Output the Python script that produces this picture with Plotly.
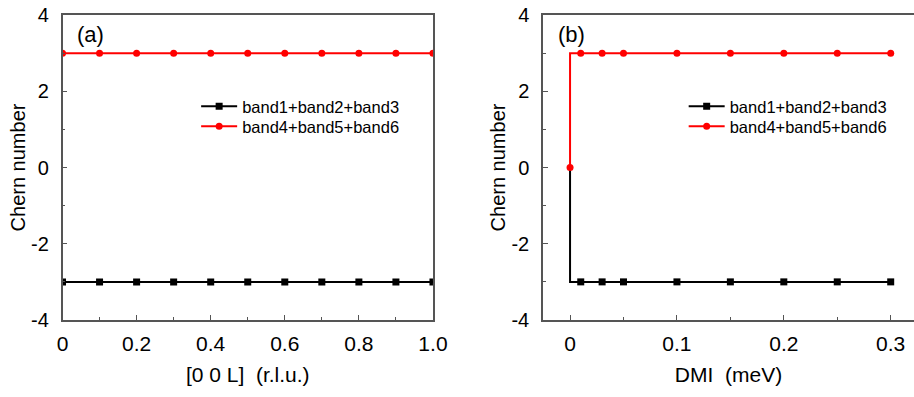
import plotly.graph_objects as go

# ---- data ----
L_vals = [0.0, 0.1, 0.2, 0.3, 0.4, 0.5, 0.6, 0.7, 0.8, 0.9, 1.0]
a_band123 = [-3, -3, -3, -3, -3, -3, -3, -3, -3, -3, -3]
a_band456 = [3, 3, 3, 3, 3, 3, 3, 3, 3, 3, 3]

dmi_vals = [0.0, 0.01, 0.03, 0.05, 0.1, 0.15, 0.2, 0.25, 0.3]
b_band123 = [0, -3, -3, -3, -3, -3, -3, -3, -3]
b_band456 = [0, 3, 3, 3, 3, 3, 3, 3, 3]

name1 = "band1+band2+band3"
name2 = "band4+band5+band6"

a_xticks = [0, 0.2, 0.4, 0.6, 0.8, 1.0]
a_xticktext = ["0", "0.2", "0.4", "0.6", "0.8", "1.0"]
b_xticks = [0, 0.1, 0.2, 0.3]
b_xticktext = ["0", "0.1", "0.2", "0.3"]
yticks = [-4, -2, 0, 2, 4]
yticktext = ["-4", "-2", "0", "2", "4"]

FONT = "Liberation Sans, Arial, sans-serif"
AX = "#555555"

fig = go.Figure()

def add(x, y, name, color, symbol, xa, ya, legend, shape="linear", mcolor=None):
    fig.add_trace(go.Scatter(
        x=x, y=y, name=name, mode="lines+markers", xaxis=xa, yaxis=ya,
        legend=legend, showlegend=True,
        line=dict(color=color, width=2, shape=shape),
        marker=dict(color=mcolor if mcolor is not None else color,
                    size=7, symbol=symbol),
    ))

add(L_vals, a_band123, name1, "black", "square", "x", "y", "legend")
add(L_vals, a_band456, name2, "#ff0000", "circle", "x", "y", "legend2")
# panel (b) black series drawn from the right end so that its legend swatch is black;
# its point at DMI=0 sits beneath the red marker in the reference, so it is left unfilled
bx = dmi_vals[::-1]
by = b_band123[::-1]
b_colors = ["black"] * (len(bx) - 1) + ["rgba(0,0,0,0)"]
add(bx, by, name1, "black", "square", "x2", "y2", "legend3", "hv", b_colors)
add(dmi_vals, b_band456, name2, "#ff0000", "circle", "x2", "y2", "legend4", "vh")

common_x = dict(showline=True, linecolor=AX, linewidth=1.5, mirror=True,
                ticks="inside", ticklen=5, tickcolor=AX, tickwidth=1,
                showgrid=False, zeroline=False, automargin=False,
                ticklabelstandoff=4,
                tickfont=dict(family=FONT, size=21, color="black"),
                title_font=dict(family=FONT, size=21, color="black"))
common_y = dict(showline=True, linecolor=AX, linewidth=1.5,
                ticks="inside", ticklen=5, tickcolor=AX, tickwidth=1,
                showgrid=False, zeroline=False, range=[-4, 4], automargin=False,
                tickvals=yticks, ticktext=yticktext, ticklabelstandoff=8,
                minor=dict(dtick=1, ticks="inside", ticklen=3, tickcolor=AX),
                tickfont=dict(family=FONT, size=20, color="black"),
                title=dict(text="Chern number", standoff=0,
                           font=dict(family=FONT, size=20, color="black")))

leg = dict(xanchor="left", yanchor="top", itemwidth=36,
           bgcolor="rgba(0,0,0,0)", tracegroupgap=0,
           font=dict(family=FONT, size=16.5, color="black"))

fig.update_layout(
    width=914, height=397,
    showlegend=True,
    margin=dict(l=0, r=0, t=15, b=77),
    paper_bgcolor="white", plot_bgcolor="white",
    xaxis=dict(common_x, domain=[0.0684, 0.4737], range=[0, 1.0],
               tickvals=a_xticks, ticktext=a_xticktext,
               minor=dict(tickvals=[0.1, 0.3, 0.5, 0.7, 0.9], ticks="inside",
                          ticklen=3, tickcolor=AX),
               title=dict(text="[0 0 L]  (r.l.u.)", standoff=13)),
    yaxis=dict(common_y, anchor="x", mirror=True),
    xaxis2=dict(common_x, domain=[0.5941, 1.0], range=[-0.0253, 0.3218],
                tickvals=b_xticks, ticktext=b_xticktext,
                minor=dict(tickvals=[0.05, 0.15, 0.25], ticks="inside",
                           ticklen=3, tickcolor=AX),
                title=dict(text="DMI  (meV)", standoff=13)),
    yaxis2=dict(common_y, anchor="x2", mirror=False),
    legend=dict(leg, x=0.2146, y=0.757),
    legend2=dict(leg, x=0.2146, y=0.692),
    legend3=dict(leg, x=0.748, y=0.757),
    legend4=dict(leg, x=0.748, y=0.692),
    annotations=[
        dict(text="(a)", x=0.035, y=0.985, xref="x domain", yref="y domain",
             xanchor="left", yanchor="top", showarrow=False,
             font=dict(family=FONT, size=22, color="black")),
        dict(text="(b)", x=0.035, y=0.985, xref="x2 domain", yref="y2 domain",
             xanchor="left", yanchor="top", showarrow=False,
             font=dict(family=FONT, size=22, color="black")),
    ],
)

fig.write_html("out.html", config={"displayModeBar": False},
               post_script="document.body.style.margin='0';")
